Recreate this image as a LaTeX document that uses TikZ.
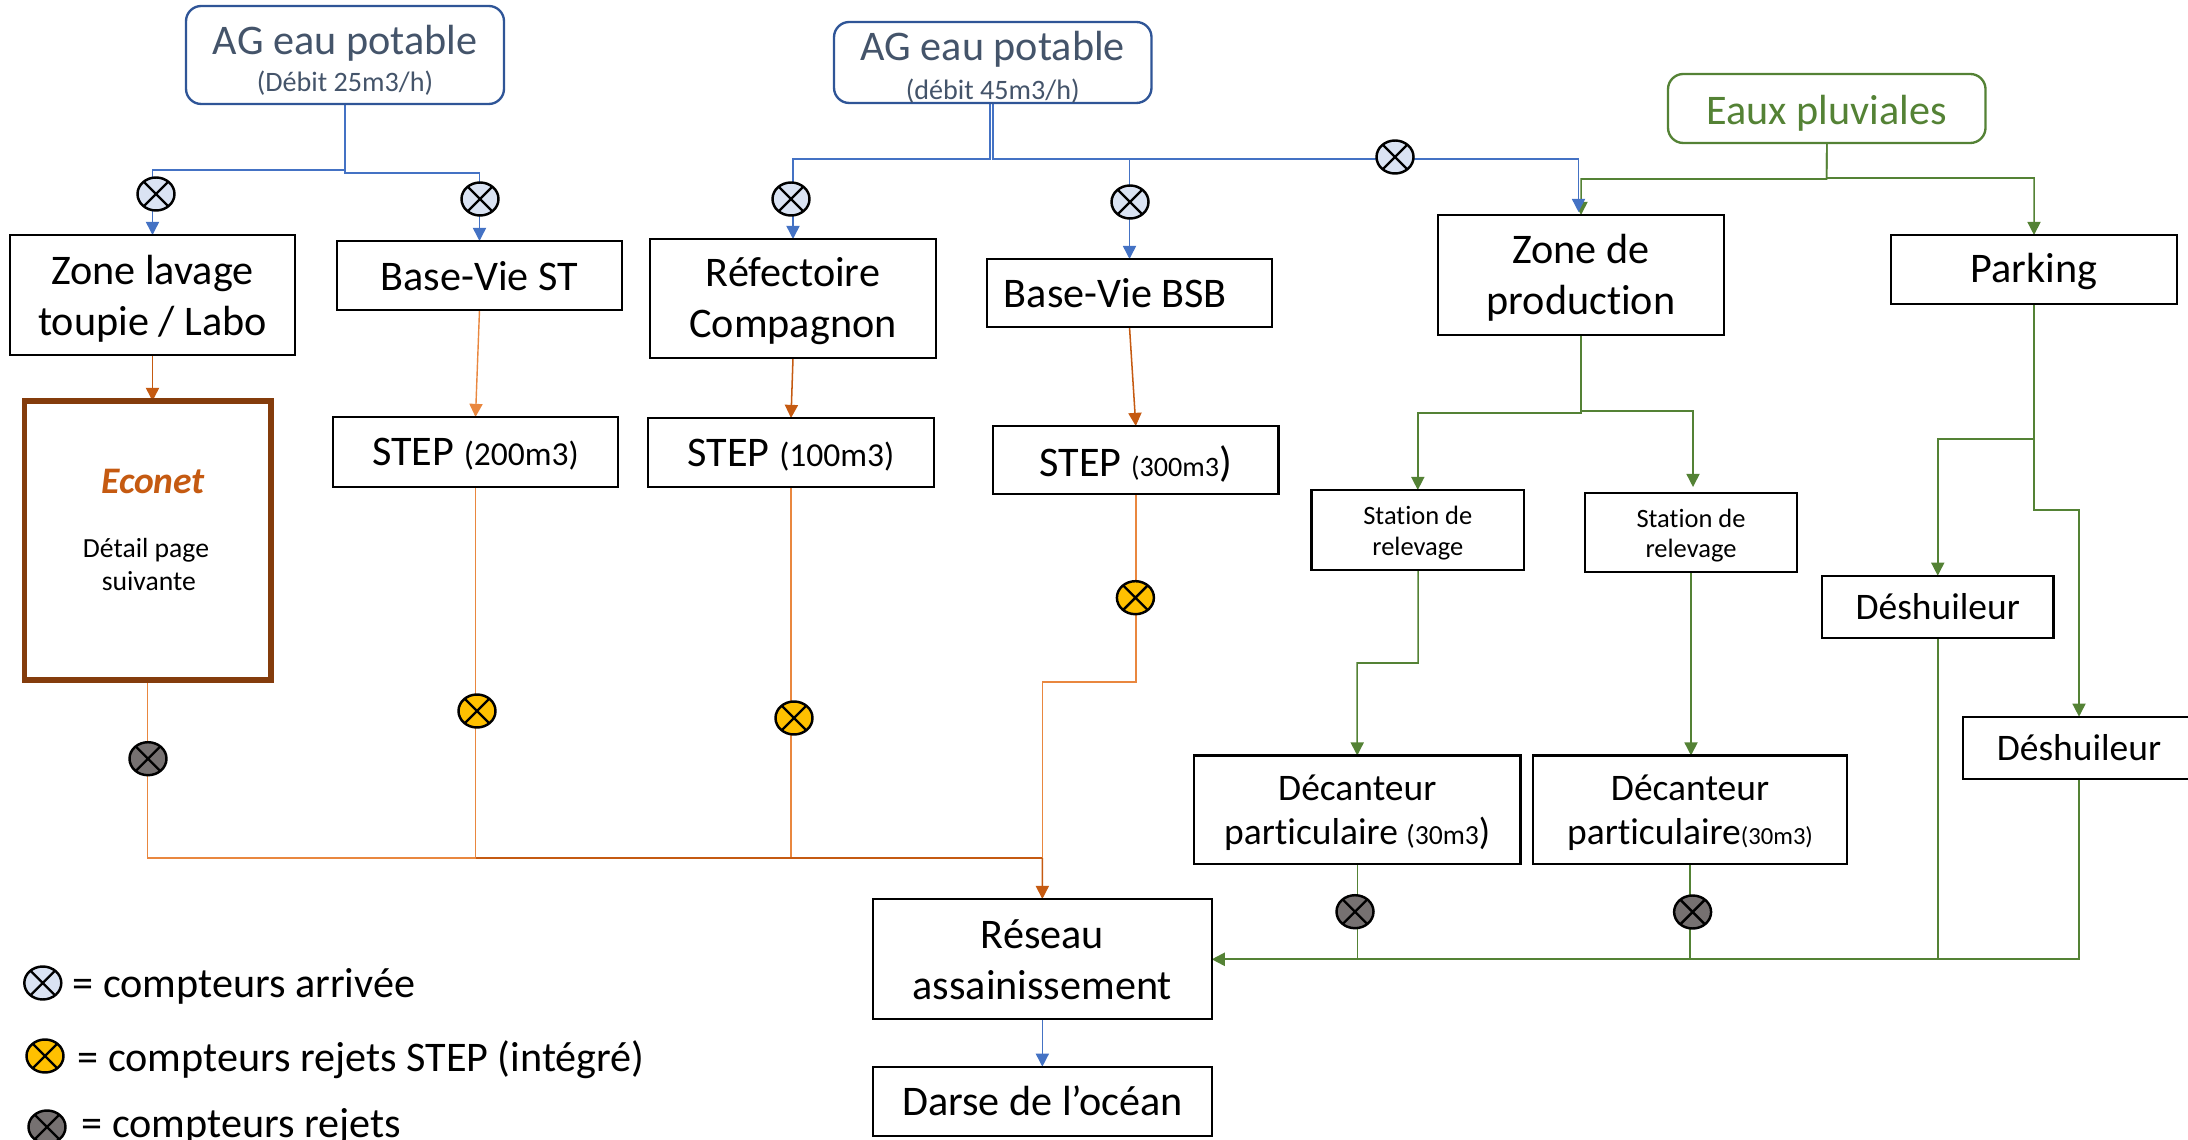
\documentclass[tikz,border=0pt]{standalone}
\usepackage{fontspec}
\setmainfont[Ligatures=NoCommon]{Carlito}
\usetikzlibrary{arrows.meta,shapes.geometric,backgrounds}
\definecolor{cblue}{HTML}{4472C4}
\definecolor{cdblue}{HTML}{2F5597}
\definecolor{cslate}{HTML}{44546A}
\definecolor{cgreen}{HTML}{548235}
\definecolor{corange}{HTML}{C55A11}
\definecolor{clorange}{HTML}{E9873F}
\definecolor{cbrown}{HTML}{843C0C}
\definecolor{mblue}{HTML}{DAE3F3}
\definecolor{myellow}{HTML}{FFC000}
\definecolor{mgrey}{HTML}{767171}
\newcommand\fsA{\fontsize{18}{21.8}\selectfont}
\newcommand\fsB{\fontsize{12}{14}\selectfont}
\newcommand\fsC{\fontsize{14.3}{16}\selectfont}
\newcommand\fsD{\fontsize{11.3}{13}\selectfont}
\newcommand\fsE{\fontsize{16}{19}\selectfont}
\newcommand\fsF{\fontsize{11.8}{14.2}\selectfont}
\newcommand\fsG{\fontsize{10.5}{12}\selectfont}
\newcommand\UP[1]{\rule{0pt}{#1}}
\newcommand\BX[7][]{\node[#6,#1,minimum width={(#4-#2)*0.015cm},minimum height={(#5-#3)*0.015cm}] (#7) at ({(#2+#4)/2},{(#3+#5)/2})}
\newcommand\METER[4]{\node[meter,fill=#4] (#1) at (#2,#3) {};\draw[meterx] (#1.45)--(#1.225) (#1.135)--(#1.315);}
\tikzset{
 plainbox/.style={draw=black,line width=1pt,fill=white,inner sep=0pt,outer sep=0pt,align=center,font=\fsA},
 roundbox/.style={plainbox,rounded corners=6.5pt,draw=cdblue,text=cslate},
 greenbox/.style={roundbox,draw=cgreen,text=cgreen},
 smallbox/.style={plainbox,font=\fsD},
 midbox/.style={plainbox,font=\fsE},
 econetbox/.style={draw=cbrown,line width=2.4pt,fill=white,inner sep=0pt,outer sep=0pt},
 meter/.style={ellipse,draw=black,line width=1.05pt,minimum width=0.555cm,minimum height=0.495cm,inner sep=0pt,outer sep=0pt},
 meterx/.style={draw=black,line width=1pt},
 tip/.style={-{Triangle[length=5.6pt,width=5.6pt]}},
 bluelink/.style={draw=cblue,line width=0.65pt},
 greenlink/.style={draw=cgreen,line width=0.65pt},
 orangelink/.style={draw=corange,line width=0.65pt},
 lightlink/.style={draw=clorange,line width=0.6pt},
 legendtext/.style={anchor=west,inner sep=0pt,font=\fsA}
}
\begin{document}
\begin{tikzpicture}[x=0.015cm,y=-0.015cm]
\useasboundingbox (0,0) rectangle (2188,1140);
% sources
\BX{186}{6}{504}{104}{roundbox}{ag1} {\UP{17.2pt}AG eau potable\\[-6pt]{\fsB (Débit 25m3/h)}};
\BX{834}{22}{1151.5}{103}{roundbox}{ag2} {\UP{16.6pt}AG eau potable\\[-5.5pt]{\fsB (débit 45m3/h)}};
\BX{1668}{74}{1985.5}{143}{greenbox}{eaux} {\UP{16.6pt}Eaux pluviales};
% first row
\BX{10}{235}{295}{355}{plainbox}{zl} {\UP{15.4pt}Zone lavage\\toupie / Labo};
\BX{337}{241}{622}{310}{plainbox}{bst} {\UP{13.2pt}Base-Vie ST};
\BX{650}{239}{936}{358}{plainbox}{ref} {\UP{14.6pt}Réfectoire\\Compagnon};
\BX{987}{259}{1272}{327}{plainbox}{bsb} {Base-Vie BSB\hspace*{12pt}};
\BX{1438}{215}{1724}{335}{plainbox}{zp} {\UP{15.2pt}Zone de\\production};
\BX{1891}{235}{2177}{304}{plainbox}{park} {\UP{14.2pt}Parking};
% second row
\BX{24.5}{401}{271}{680}{econetbox}{econet} {};
\node[align=center,font=\fsF] (econett) at (146,530) {\hspace*{6pt}{\fontsize{16}{18}\selectfont\bfseries\itshape\textcolor{corange}{Econet}}\\[13pt]Détail page\\\hspace*{2.4pt}suivante};
\BX{333}{417}{618}{487}{plainbox}{s200} {\UP{13.8pt}STEP {\fsC (200m3)}};
\BX{648}{418}{934}{487}{plainbox}{s100} {\UP{13.8pt}STEP {\fsC (100m3)}};
\BX{993}{426}{1278.6}{494}{plainbox}{s300} {\UP{16.5pt}STEP {\fsB (300m3}{\fsA)}};
\BX{1311.6}{490}{1524}{570}{smallbox}{st1} {\UP{10.6pt}Station de\\relevage};
\BX{1585}{493}{1797}{572}{smallbox}{st2} {\UP{10.6pt}Station de\\relevage};
\BX{1822}{575.7}{2053.5}{638}{midbox}{de1} {Déshuileur};
\BX{1963}{716.7}{2195}{779}{midbox}{de2} {Déshuileur};
\BX{1194}{755.5}{1520.5}{864}{midbox}{dc1} {\UP{13.4pt}Décanteur\\particulaire {\fsF (30m3}{\fsE)}};
\BX{1533}{755.5}{1847}{864}{midbox}{dc2} {\UP{13.4pt}Décanteur\\particulaire{\fsG (30m3)}};
\BX{873}{899}{1211.7}{1019}{plainbox}{res} {\UP{13pt}Réseau\\assainissement};
\BX{873}{1066.7}{1211.7}{1135.7}{plainbox}{dar} {Darse de l’océan};
% meters
\METER{m1}{156}{194}{mblue}
\METER{m2}{480}{199}{mblue}
\METER{m3}{791}{199}{mblue}
\METER{m4}{1130}{202}{mblue}
\METER{m5}{1395}{157}{mblue}
\METER{m6}{148}{758.7}{mgrey}
\METER{m7}{477}{711}{myellow}
\METER{m8}{794}{718}{myellow}
\METER{m9}{1135.4}{597.7}{myellow}
\METER{m10}{1355}{911.7}{mgrey}
\METER{m11}{1692.6}{912}{mgrey}
% legend
\METER{l1}{42.8}{983}{mblue}
\METER{l2}{45}{1056}{myellow}
\METER{l3}{47}{1127}{mgrey}
\node[legendtext] (lt1) at (72,986.5) {= compteurs arrivée};
\node[legendtext] (lt2) at (77,1060) {= compteurs rejets STEP (intégré)};
\node[legendtext] (lt3) at (81,1127) {= compteurs rejets};
% junctions
\coordinate (j1a) at (345,170);
\coordinate (j1b) at (345,173);
\coordinate (j2t) at (990,98);
\coordinate (j2a) at (990,159);
\coordinate (j2b) at (992.75,159);
\coordinate (j2c) at (1578.5,159);
\coordinate (zpb) at (1578.5,212);
\coordinate (j3a) at (1826.7,179);
\coordinate (j3b) at (1826.7,178);
\coordinate (j4a) at (1581,413);
\coordinate (j4b) at (1581,411);
\coordinate (st2a) at (1693,487);
\coordinate (j5a) at (2034,439);
\coordinate (j5b) at (2034,510);
\coordinate (j6a) at (1418,663);
\coordinate (j6b) at (1357,663);
\coordinate (j7a) at (1135.8,682);
\coordinate (j7b) at (1042.3,682);
\coordinate (j8) at (1042.3,858);
\coordinate (busgreen) at (2079,959.3);
\begin{scope}[on background layer]
\draw[bluelink,tip] (ag1.south) -- (j1a) -| (zl.north);
\draw[bluelink,tip] (ag1.south) -- (j1b) -| (bst.north);
\draw[bluelink,tip] (j2t) -- (j2a) -| (ref.north);
\draw[bluelink] (ag2.south) -- (j2b) -- (j2c);
\draw[bluelink,tip] (j2b) -| (bsb.north);
\draw[orangelink,tip] (zl.south) -- (zl.south |- econet.north);
\draw[lightlink,tip] (bst.south) -- (s200.north);
\draw[orangelink,tip] (ref.south) -- (s100.north);
\draw[orangelink,tip] (bsb.south) -- (s300.north);
\draw[greenlink,tip] (eaux.south) -- (j3a) -| (zp.north);
\draw[bluelink,tip] (j2c) -- (zpb);
\draw[greenlink,tip] (eaux.south) -- (j3b) -| (park.north);
\draw[greenlink,tip] (zp.south) -- (j4a) -| (st1.north);
\draw[greenlink,tip] (zp.south) -- (j4b) -| (st2a);
\draw[greenlink,tip] (park.south) -- (j5a) -| (de1.north);
\draw[greenlink,tip] (park.south) -- (j5b) -| (de2.north);
\draw[greenlink,tip] (st1.south -| j6a) -- (j6a) -- (j6b) -- (dc1.north);
\draw[greenlink,tip] (st2.south) -- (st2.south |- dc2.north);
\draw[lightlink] (econet.south) -- (econet.south |- j8) -- (j8);
\draw[lightlink] (s200.south) -- (s200.south |- j8);
\draw[lightlink] (s100.south) -- (s100.south |- j8);
\draw[lightlink] (s300.south) -- (j7a) -- (j7b) -- (j8);
\draw[orangelink,tip] (j8) -- (res.north);
\draw[orangelink] (s200.south |- j8) -- (j8);
\draw[bluelink,tip] (res.south) -- (dar.north);
\draw[greenlink] (dc1.south) -- (dc1.south |- busgreen);
\draw[greenlink] (dc2.south) -- (dc2.south |- busgreen);
\draw[greenlink] (de1.south) -- (de1.south |- busgreen);
\draw[greenlink,line width=0.9pt,tip] (de2.south) -- (busgreen) -- (busgreen -| res.east);
\end{scope}
\end{tikzpicture}
\end{document}
